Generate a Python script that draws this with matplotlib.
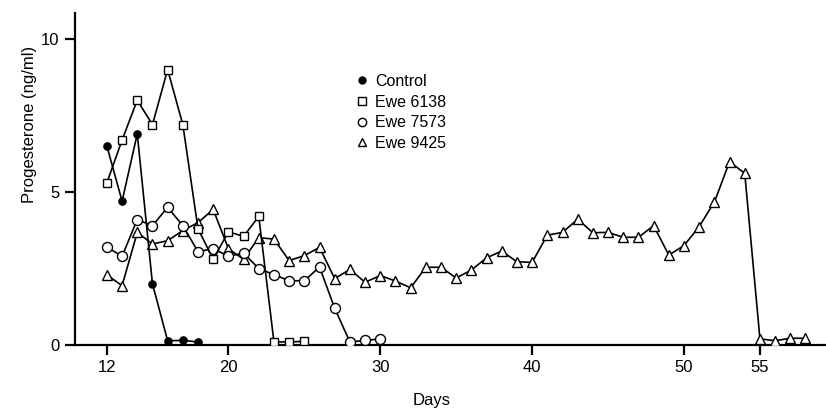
import matplotlib
matplotlib.use("Agg")
import matplotlib.pyplot as plt
from matplotlib.lines import Line2D

plt.rcParams['font.family'] = ['Liberation Sans', 'DejaVu Sans']

# ---- data ----
control_days = [12, 13, 14, 15, 16, 17, 18]
control_vals = [6.5, 4.7, 6.9, 2.0, 0.14, 0.15, 0.1]

ewe6138_days = list(range(12, 26))
ewe6138_vals = [5.3, 6.7, 8.0, 7.2, 9.0, 7.2, 3.8, 2.8, 3.7, 3.55, 4.2, 0.1, 0.1, 0.12]

ewe7573_days = list(range(12, 31))
ewe7573_vals = [3.2, 2.9, 4.1, 3.9, 4.5, 3.9, 3.05, 3.15, 2.9, 3.0, 2.5, 2.3,
                2.1, 2.1, 2.55, 1.2, 0.1, 0.15, 0.2]

ewe9425_days = list(range(12, 59))
ewe9425_vals = [2.29, 1.94, 3.68, 3.3, 3.41, 3.74, 4.0, 4.43, 3.15, 2.8,
                3.51, 3.46, 2.76, 2.92, 3.19, 2.17, 2.47, 2.05, 2.27, 2.09,
                1.87, 2.54, 2.54, 2.19, 2.45, 2.85, 3.07, 2.72, 2.7, 3.59,
                3.68, 4.11, 3.67, 3.68, 3.52, 3.52, 3.9, 2.94, 3.25, 3.87,
                4.67, 5.99, 5.61, 0.2, 0.14, 0.22, 0.22]

x_ticks = [12, 20, 30, 40, 50, 55]
y_ticks = [0, 5, 10]
labels = ['Control', 'Ewe 6138', 'Ewe 7573', 'Ewe 9425']

# ---- figure ----
W, H = 826, 409
fig = plt.figure(figsize=(W / 100, H / 100), dpi=100)
ax = fig.add_axes([75 / W, (H - 345) / H, (W - 75) / W, (345 - 13) / H])

lw = 1.2
mew = 1.0
ax.plot(ewe9425_days, ewe9425_vals, color='black', lw=lw, marker='^', ms=6.5,
        mfc='white', mec='black', mew=mew, zorder=3)
ax.plot(ewe7573_days, ewe7573_vals, color='black', lw=lw, marker='o', ms=7.2,
        mfc='white', mec='black', mew=mew, zorder=4)
ax.plot(ewe6138_days, ewe6138_vals, color='black', lw=lw, marker='s', ms=6.3,
        mfc='white', mec='black', mew=mew, zorder=5)
ax.plot(control_days, control_vals, color='black', lw=lw, marker='o', ms=5.2,
        mfc='black', mec='black', mew=mew, zorder=6)

ax.set_xlim(9.9, 59.35)
ax.set_ylim(0, 10.85)
ax.set_xticks(x_ticks)
ax.set_yticks(y_ticks)

for s in ['top', 'right']:
    ax.spines[s].set_visible(False)
for s in ['left', 'bottom']:
    ax.spines[s].set_linewidth(1.6)
ax.tick_params(axis='both', direction='out', length=7, width=1.6,
               labelsize=12, pad=4)

ax.set_xlabel('Days', fontsize=12, va='center')
ax.xaxis.set_label_coords((432 - 75) / 751, (345 - 400) / 332)
ax.set_ylabel('Progesterone (ng/ml)', fontsize=12, va='center')
ax.yaxis.set_label_coords((30 - 75) / 751, (345 - 124) / 332)

handles = [
    Line2D([], [], ls='none', marker='o', ms=5, mfc='black', mec='black'),
    Line2D([], [], ls='none', marker='s', ms=5.5, mfc='white', mec='black', mew=1.0),
    Line2D([], [], ls='none', marker='o', ms=6, mfc='white', mec='black', mew=1.0),
    Line2D([], [], ls='none', marker='^', ms=6, mfc='white', mec='black', mew=1.0),
]
leg = ax.legend(handles, labels, loc='upper left',
                bbox_to_anchor=(356 / W, 1 - 74 / H), bbox_transform=fig.transFigure,
                frameon=False, fontsize=11.5, handlelength=0.8, handletextpad=0.4,
                labelspacing=0.35, borderpad=0, borderaxespad=0)

fig.savefig('out.png', dpi=100)
